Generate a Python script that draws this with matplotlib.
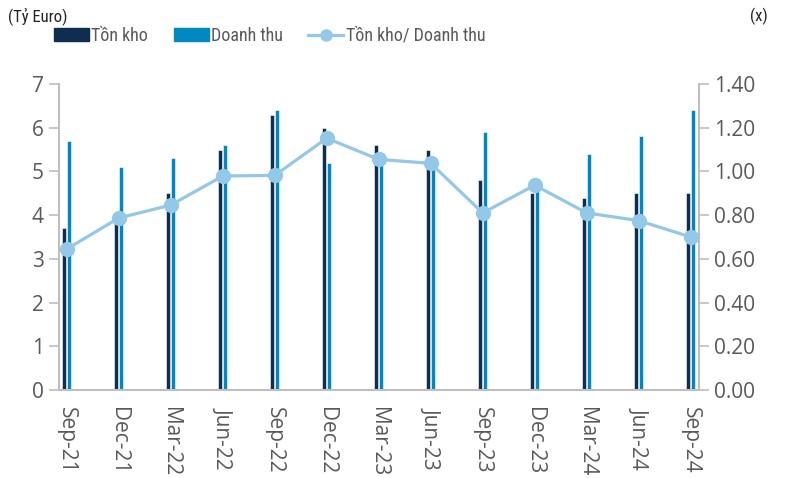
import matplotlib
matplotlib.use("Agg")
import matplotlib.pyplot as plt
import numpy as np
from matplotlib.lines import Line2D
from matplotlib.patches import Patch

plt.rcParams['font.family'] = ['Open Sans', 'DejaVu Sans']

categories = ["Sep-21", "Dec-21", "Mar-22", "Jun-22", "Sep-22", "Dec-22", "Mar-23",
              "Jun-23", "Sep-23", "Dec-23", "Mar-24", "Jun-24", "Sep-24"]
ton_kho = [3.7, 4.0, 4.5, 5.5, 6.3, 6.0, 5.6, 5.5, 4.8, 4.5, 4.4, 4.5, 4.5]
doanh_thu = [5.7, 5.1, 5.3, 5.6, 6.4, 5.2, 5.3, 5.3, 5.9, 4.8, 5.4, 5.8, 6.4]
ratio = [0.645, 0.787, 0.846, 0.979, 0.982, 1.152, 1.055, 1.037, 0.81, 0.937, 0.81, 0.775, 0.70]
left_ticks = [0, 1, 2, 3, 4, 5, 6, 7]
right_ticks = [0.0, 0.2, 0.4, 0.6, 0.8, 1.0, 1.2, 1.4]

c_dark = "#0f2d4e"
c_teal = "#0088bf"
c_line = "#93c8e8"
c_text = "#595959"
c_axis = "#bfbfbf"
narrow = ['Roboto Condensed', 'Open Sans', 'DejaVu Sans']

fig = plt.figure(figsize=(7.97, 4.78), dpi=100)
ax = fig.add_axes([59/797, 1-390/478, (699-59)/797, (390-84)/478])
ax2 = ax.twinx()

x = np.arange(len(categories))
w = 0.075
ax.bar(x - 0.05, ton_kho, width=w, color=c_dark, edgecolor="white", linewidth=0.4, zorder=2)
ax.bar(x + 0.05, doanh_thu, width=w, color=c_teal, edgecolor="white", linewidth=0.4, zorder=2)
ax2.plot(x, ratio, color=c_line, lw=2.3, marker="o", ms=10, zorder=3)

ax.set_xlim(-0.15, len(categories) - 1 + 0.16)
ax.set_ylim(0, 7)
ax2.set_ylim(0, 1.4)
ax.set_yticks(left_ticks)
ax.set_yticklabels([str(t) for t in left_ticks])
ax2.set_yticks(right_ticks)
ax2.set_yticklabels([f"{t:.2f}" for t in right_ticks])
ax.set_xticks(x)
ax.set_xticklabels(categories, rotation=-90)

for a in (ax, ax2):
    for s in a.spines.values():
        s.set_visible(False)
ax.spines['left'].set_visible(True)
ax.spines['bottom'].set_visible(True)
ax2.spines['right'].set_visible(True)
for s in (ax.spines['left'], ax.spines['bottom'], ax2.spines['right']):
    s.set_color(c_axis)
    s.set_linewidth(1.5)

ax.tick_params(axis='y', colors=c_axis, labelcolor=c_text, labelsize=15, length=7, width=1.2, pad=4)
ax2.tick_params(axis='y', colors=c_axis, labelcolor=c_text, labelsize=15, length=7, width=1.2, pad=4)
ax.tick_params(axis='x', length=0, labelcolor=c_text, labelsize=15, pad=12)

fig.text(8/797, 1-16/478, "(Tỷ Euro)", fontsize=12, color="#222222", va="center", ha="left",
         family=narrow)
fig.text(759/797, 1-16/478, "(x)", fontsize=12, color="#222222", va="center", ha="center",
         family=narrow)

handles = [Patch(color=c_dark), Patch(color=c_teal),
           Line2D([], [], color=c_line, lw=2.3, marker="o", ms=8)]
labels = ["Tồn kho", "Doanh thu", "Tồn kho/ Doanh thu"]
fig.legend(handles, labels, loc="center left", bbox_to_anchor=(54/797, 1-36/478), ncol=3,
           frameon=False, prop={'family': narrow, 'size': 13},
           labelcolor=c_text, handlelength=1.95, handleheight=0.72,
           handletextpad=0.12, columnspacing=1.4, borderaxespad=0, borderpad=0)

fig.savefig("out.png", dpi=100)
